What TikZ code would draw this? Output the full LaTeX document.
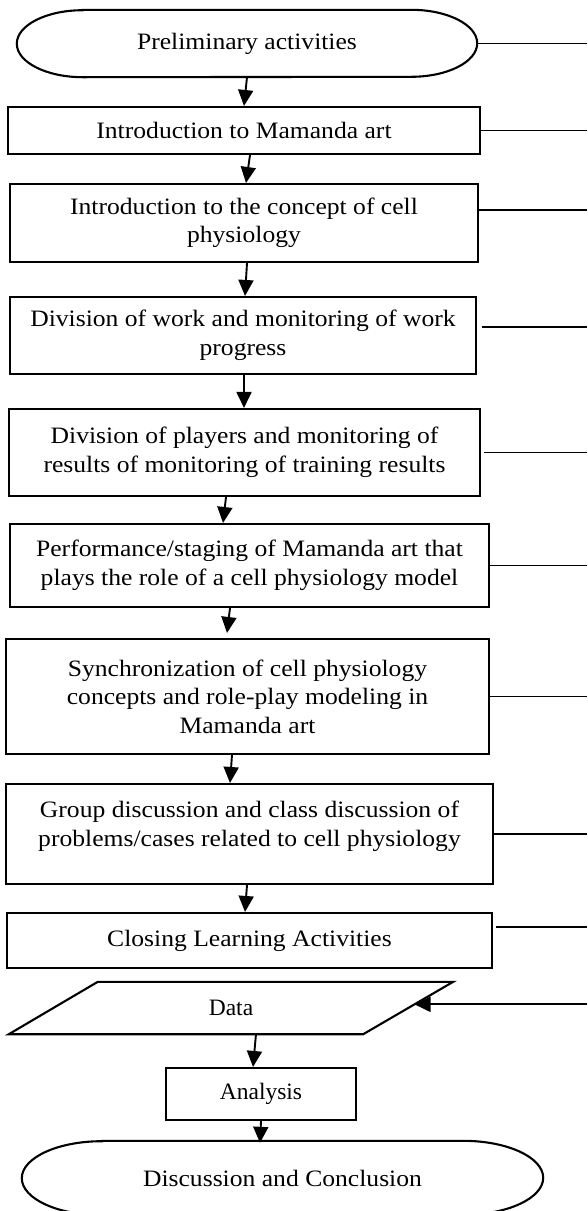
\documentclass[tikz,border=0pt]{standalone}
\usepackage{fontspec}
\setmainfont{Liberation Serif}
\newfontfamily\cambriafont{Liberation Serif}[FakeStretch=1.09]
\usetikzlibrary{arrows.meta,calc}
\begin{document}
\begin{tikzpicture}[x=1pt,y=-1pt,
  box/.style={draw=black,line width=2.1pt,rectangle,align=center,inner sep=0pt,
    font=\cambriafont\fontsize{23.5}{28.5}\selectfont},
  tbox/.style={draw=black,line width=2.1pt,rectangle,align=center,inner sep=0pt,
    font=\fontsize{23.5}{28.5}\selectfont},
  plain/.style={draw=none,rectangle,inner sep=0pt,align=center,
    font=\cambriafont\fontsize{23.5}{28.5}\selectfont},
  arr/.style={line width=1.9pt,-{Triangle[length=16pt,width=15pt]}},
  link/.style={line width=1.8pt},
  outline/.style={line width=2.1pt}]
\useasboundingbox (0,0) rectangle (587,1211);
\coordinate (edge) at (587,0);

% top terminal
\node[plain,minimum width=460pt,minimum height=67pt] (t1) at (247,43.5) {Preliminary activities};
\draw[outline] ([xshift=66pt]t1.north west) -- ([xshift=-66pt]t1.north east)
  arc[start angle=90,end angle=-90,x radius=66pt,y radius=33.5pt]
  -- ([xshift=66pt]t1.south west)
  arc[start angle=270,end angle=90,x radius=66pt,y radius=33.5pt] -- cycle;

\node[box,minimum width=472pt,minimum height=47pt] (b2) at (244,130.5) {Introduction to Mamanda art};
\node[box,minimum width=468pt,minimum height=78pt] (b3) at (244,223) {Introduction to the concept of cell\\physiology};
\node[box,minimum width=466pt,minimum height=77pt] (b4) at (243,335.5) {Division of work and monitoring of work\\progress};
\node[box,minimum width=471pt,minimum height=87pt] (b5) at (244.5,452.5) {Division of players and monitoring of\\results of monitoring of training results};
\node[box,minimum width=479pt,minimum height=83pt] (b6) at (249.5,565.5) {Performance/staging of Mamanda art that\\plays the role of a cell physiology model};
\node[box,minimum width=483pt,minimum height=115pt] (b7) at (247.5,696.5) {Synchronization of cell physiology\\concepts and role-play modeling in\\Mamanda art};
\node[box,minimum width=487pt,minimum height=100pt] (b8) at (249.5,834) {Group discussion and class discussion of\\problems/cases related to cell physiology\\[-8pt]\mbox{}};
\node[box,minimum width=485pt,minimum height=55pt] (b9) at (249.5,940.5) {Closing Learning Activities};

% data parallelogram
\node[plain,font=\fontsize{23.5}{28.5}\selectfont,minimum width=444pt,minimum height=52pt] (data) at (231,1008) {Data};
\draw[outline] (data.south west) -- ([xshift=-90pt]data.south east) -- (data.north east)
  -- ([xshift=89pt]data.north west) -- cycle;

\node[tbox,minimum width=190pt,minimum height=52pt] (ana) at (261,1094) {Analysis};

% bottom terminal
\node[plain,minimum width=521pt,minimum height=74pt] (ell) at (282.5,1178) {Discussion and Conclusion};
\draw[outline] ([xshift=80pt]ell.north west) -- ([xshift=-80pt]ell.north east)
  arc[start angle=90,end angle=-90,x radius=80pt,y radius=37pt]
  -- ([xshift=80pt]ell.south west)
  arc[start angle=270,end angle=90,x radius=80pt,y radius=37pt] -- cycle;

% vertical arrows
\draw[arr] (t1.south) -- (b2.north);
\draw[arr] ([xshift=6pt]b2.south) -- ([xshift=2pt]b3.north);
\draw[arr] ([xshift=3pt]b3.south) -- ([xshift=2pt]b4.north);
\draw[arr] ([xshift=1pt]b4.south) -- ([xshift=-0.5pt]b5.north);
\draw[arr] ([xshift=-18.5pt]b5.south) -- ([xshift=-26.5pt]b6.north);
\draw[arr] ([xshift=-19.5pt]b6.south) -- ([xshift=-20.5pt,yshift=5pt]b7.north);
\draw[arr] ([xshift=-15.5pt]b7.south) -- ([xshift=-19.5pt]b8.north);
\draw[arr] ([xshift=-2.5pt]b8.south) -- ([xshift=-4.5pt]b9.north);
\draw[arr] ([xshift=25pt]data.south) -- ([xshift=-8pt]ana.north);
\draw[arr] (ana.south) -- ([xshift=-22.5pt,yshift=-2pt]ell.north);

% right-side lines
\draw[link] (t1.east) -- (t1.east -| edge);
\draw[link] (b2.east) -- (b2.east -| edge);
\draw[link] ([yshift=13pt]b3.east) -- ([yshift=13pt]b3.east -| edge);
\draw[link] ([xshift=5pt,yshift=8.5pt]b4.east) -- ([yshift=8.5pt]b4.east -| edge);
\draw[link] ([xshift=3pt]b5.east) -- (b5.east -| edge);
\draw[link] (b6.east) -- (b6.east -| edge);
\draw[link] (b7.east) -- (b7.east -| edge);
\draw[link] (b8.east) -- (b8.east -| edge);
\draw[link] ([xshift=3pt,yshift=13.5pt]b9.east) -- ([yshift=13.5pt]b9.east -| edge);
\coordinate (din) at ($(data.north east)!0.43!([xshift=-90pt]data.south east)$);
\draw[arr] (din -| edge) -- (din);
\end{tikzpicture}
\end{document}
